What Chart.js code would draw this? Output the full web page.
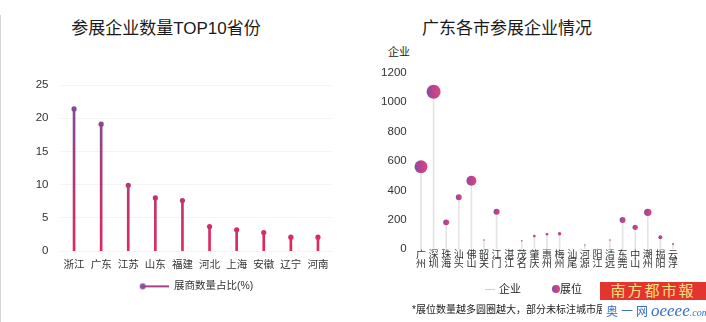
<!DOCTYPE html>
<html lang="zh-CN">
<head>
<meta charset="UTF-8" />
<title>参展企业统计</title>
<style>
  body {
    margin: 0;
    width: 706px;
    height: 322px;
    position: relative;
    overflow: hidden;
    background: #fff;
    font-family: 'Liberation Sans', 'Noto Sans CJK SC', sans-serif;
    color: #222;
  }
  .panel { position: absolute; top: 0; height: 322px; }
  #leftPanel { left: 0; width: 352px; }
  #rightPanel { left: 353px; width: 353px; }
  .edge { position: absolute; left: 0; top: 15px; width: 1px; height: 307px; background: #d4d4d4; }
  .title {
    position: absolute;
    top: 14px;
    font-size: 17px;
    white-space: nowrap;
    transform: translateX(-50%);
    color: #1a1a1a;
  }
  .unit { position: absolute; left: 388px; top: 43px; font-size: 11px; color: #222; }
  .legend { position: absolute; top: 281px; height: 16px; font-size: 11px; line-height: 16px; color: #222; white-space: nowrap; }
  .legend .ln { position: absolute; left: 0; top: 8px; width: 10px; height: 1px; background: #cfcfcf; }
  .legend .dot { position: absolute; top: 4px; width: 8px; height: 8px; border-radius: 50%;
                 background: linear-gradient(90deg, #8a4a9e, #e8407c); }
  .note {
    position: absolute; left: 412px; top: 301px; width: 190px;
    font-size: 10px; white-space: nowrap; overflow: hidden; color: #222;
  }
  .brand {
    position: absolute; left: 600px; top: 282px; width: 106px; height: 18px;
    background: #e3342f; color: #f6e27a; font-size: 15px;
    line-height: 18px; text-align: center; letter-spacing: 2px;
  }
  .site { position: absolute; left: 606px; top: 301px; white-space: nowrap; color: #3a6fc4; }
  .site b { font-size: 12px; font-weight: normal; letter-spacing: 3px; }
  .site i { font-family: 'Liberation Serif', serif; font-size: 17px; }
  .site small { font-family: 'Liberation Serif', serif; font-size: 10px; font-style: italic; }
</style>
</head>
<body>
<div class="edge"></div>
<div class="title" style="left:166px">参展企业数量TOP10省份</div>
<div class="title" style="left:507px">广东各市参展企业情况</div>
<div class="unit">企业</div>
<div class="panel" id="leftPanel"><canvas id="provinceChart"></canvas></div>
<div class="panel" id="rightPanel"><canvas id="cityChart"></canvas></div>
<div class="legend" style="left:485px;width:100px">
  <span class="ln"></span><span style="position:absolute;left:14px">企业</span>
  <span class="dot" style="left:67px"></span><span style="position:absolute;left:75px">展位</span>
</div>
<div class="note">*展位数量越多圆圈越大，部分未标注城市展位较少</div>
<div class="brand">南方都市報</div>
<div class="site"><b>奥一网</b><i>oeeee</i><small>.com</small></div>

<script src="https://cdn.jsdelivr.net/npm/chart.js"></script>
<script>
  // left chart: share of exhibitors by province (%)
  const provinces = ['浙江', '广东', '江苏', '山东', '福建', '河北', '上海', '安徽', '辽宁', '河南'];
  const provinceShare = [21.4, 19.1, 9.9, 8.0, 7.6, 3.7, 3.2, 2.8, 2.1, 2.1];

  // right chart: Guangdong cities, companies and (estimated) booth counts
  const cities = ['广州', '深圳', '珠海', '汕头', '佛山', '韶关', '江门', '湛江', '茂名', '肇庆', '惠州',
                  '梅州', '汕尾', '河源', '阳江', '清远', '东莞', '中山', '潮州', '揭阳', '云浮'];
  const cityCompanies = [561, 1071, 183, 353, 466, 63, 255, 8, 58, 90, 102, 106, 5, 29, 5, 63, 199, 149, 251, 82, 36];
  const cityBooths = [950, 1100, 200, 200, 560, 14, 210, 0, 14, 40, 40, 65, 0, 10, 0, 14, 200, 160, 310, 90, 20];

  const FONT = "'Liberation Sans', 'Noto Sans CJK SC', sans-serif";
  Chart.defaults.font.family = FONT;
  Chart.defaults.color = '#222';
  Chart.defaults.animation = false;

  function stemGradient(chart) {
    const { ctx, chartArea } = chart;
    if (!chartArea) return '#a8407e';
    const g = ctx.createLinearGradient(0, chartArea.top, 0, chartArea.bottom);
    g.addColorStop(0, '#71509f');
    g.addColorStop(1, '#e2285a');
    return g;
  }

  const maxBooth = Math.max(...cityBooths);
  const boothRadius = b => 7 * Math.sqrt(b / maxBooth);

  function bubbleColor(c) {
    const chart = c.chart;
    if (!chart.chartArea || !chart.scales.x) return '#b8428a';
    const x = chart.scales.x.getPixelForValue(c.dataIndex);
    const r = boothRadius(cityBooths[c.dataIndex]) || 1;
    const g = chart.ctx.createLinearGradient(x - r, 0, x + r, 0);
    g.addColorStop(0, '#8a4a9e');
    g.addColorStop(1, '#e8407c');
    return g;
  }

  // legend icon: line with a dot at its left end
  const provIcon = document.createElement('canvas');
  provIcon.width = 30; provIcon.height = 8;
  (function () {
    const c = provIcon.getContext('2d');
    c.strokeStyle = '#a84286'; c.lineWidth = 2;
    c.beginPath(); c.moveTo(4, 4); c.lineTo(30, 4); c.stroke();
    c.fillStyle = '#8a4e9e';
    c.beginPath(); c.arc(4, 4, 3, 0, Math.PI * 2); c.fill();
  })();

  new Chart(document.getElementById('provinceChart'), {
    type: 'bar',
    data: {
      labels: provinces,
      datasets: [{
        type: 'bar',
        data: provinceShare,
        backgroundColor: c => stemGradient(c.chart),
        barThickness: 2,
        order: 2
      }, {
        type: 'line',
        data: provinceShare,
        showLine: false,
        pointRadius: 2.6,
        pointBackgroundColor: c => stemGradient(c.chart),
        pointBorderWidth: 0,
        order: 1
      }]
    },
    options: {
      responsive: true,
      maintainAspectRatio: false,
      layout: { padding: { left: 0, right: 20.5, top: 85, bottom: 20.4 } },
      scales: {
        x: {
          grid: { display: false, drawTicks: false },
          border: { display: false },
          ticks: { font: { size: 10.5 }, color: '#333', padding: 8, maxRotation: 0, minRotation: 0, autoSkip: false },
          afterFit: s => { s.height = 25; }
        },
        y: {
          min: 0, max: 25,
          ticks: { stepSize: 5, font: { size: 11.5 }, color: '#333', padding: 12 },
          grid: { color: '#f3f3f3', drawTicks: false },
          border: { display: false },
          afterFit: s => { s.width = 60.5; }
        }
      },
      plugins: {
        legend: {
          position: 'bottom',
          fullSize: false,
          labels: {
            usePointStyle: true,
            pointStyleWidth: 30,
            padding: 5,
            font: { size: 10.5 },
            color: '#333',
            generateLabels: () => [{
              text: '展商数量占比(%)', pointStyle: provIcon, fillStyle: '#8a4e9e',
              strokeStyle: '#8a4e9e', lineWidth: 0, hidden: false, fontColor: '#333'
            }]
          }
        },
        tooltip: { enabled: false }
      }
    }
  });

  new Chart(document.getElementById('cityChart'), {
    type: 'bar',
    data: {
      labels: cities.map(c => c.split('')),
      datasets: [{
        type: 'bar',
        label: '企业',
        data: cityCompanies,
        backgroundColor: '#e4e4e4',
        barThickness: 1,
        order: 2
      }, {
        type: 'line',
        label: '展位',
        data: cityCompanies,
        showLine: false,
        pointRadius: c => boothRadius(cityBooths[c.dataIndex]),
        pointBackgroundColor: bubbleColor,
        pointBorderWidth: 0,
        order: 1
      }]
    },
    options: {
      responsive: true,
      maintainAspectRatio: false,
      layout: { padding: { left: 0, right: 26.7, top: 72.7, bottom: 48.7 } },
      scales: {
        x: {
          grid: { display: false, drawTicks: false },
          border: { display: false },
          ticks: { font: { size: 10, lineHeight: 0.95 }, color: '#333', padding: 1, maxRotation: 0, minRotation: 0, autoSkip: false },
          afterFit: s => { s.height = 24; }
        },
        y: {
          min: 0, max: 1200,
          ticks: { stepSize: 200, font: { size: 11.5 }, color: '#333', padding: 8, callback: v => String(v) },
          grid: { display: false, drawTicks: false },
          border: { display: false },
          afterFit: s => { s.width = 61.7; }
        }
      },
      plugins: {
        legend: { display: false },
        tooltip: { enabled: false }
      }
    }
  });
</script>
</body>
</html>
